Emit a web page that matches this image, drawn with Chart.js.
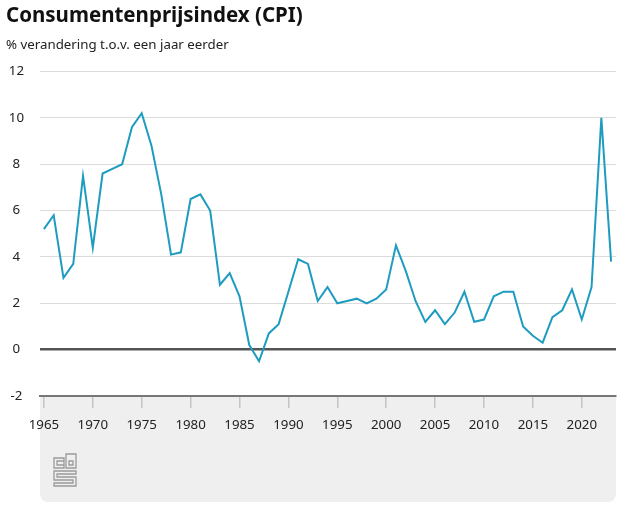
<!DOCTYPE html>
<html><head><meta charset="utf-8">
<script src="https://cdn.jsdelivr.net/npm/chart.js@4"></script>
<style>html,body{margin:0;padding:0;background:#fff}</style>
</head><body>
<canvas id="c" width="626" height="512"></canvas>
<script>
const years = [1965,1966,1967,1968,1969,1970,1971,1972,1973,1974,1975,1976,1977,1978,1979,1980,1981,1982,1983,1984,1985,1986,1987,1988,1989,1990,1991,1992,1993,1994,1995,1996,1997,1998,1999,2000,2001,2002,2003,2004,2005,2006,2007,2008,2009,2010,2011,2012,2013,2014,2015,2016,2017,2018,2019,2020,2021,2022,2023];
const cpi = [5.2,5.8,3.1,3.7,7.5,4.4,7.6,7.8,8.0,9.6,10.2,8.8,6.7,4.1,4.2,6.5,6.7,6.0,2.8,3.3,2.3,0.2,-0.5,0.7,1.1,2.5,3.9,3.7,2.1,2.7,2.0,2.1,2.2,2.0,2.2,2.6,4.5,3.4,2.1,1.2,1.7,1.1,1.6,2.5,1.2,1.3,2.3,2.5,2.5,1.0,0.6,0.3,1.4,1.7,2.6,1.3,2.7,10.0,3.8];
const yTicks = [-2,0,2,4,6,8,10,12];
const xTicks = [1965,1970,1975,1980,1985,1990,1995,2000,2005,2010,2015,2020];
const titleText = 'Consumentenprijsindex (CPI)';
const subtitleText = '% verandering t.o.v. een jaar eerder';

const FONT = "'Noto Sans', 'DejaVu Sans', sans-serif";

const boxPlugin = {
  id: 'box',
  beforeDraw(chart) {
    const {ctx, chartArea: a} = chart;
    ctx.save();
    ctx.fillStyle = '#efefef';
    ctx.beginPath();
    ctx.roundRect(a.left, a.bottom, a.right - a.left, 502 - a.bottom, [0, 0, 8, 8]);
    ctx.fill();
    ctx.restore();
  },
  afterDraw(chart) {
    const {ctx, chartArea: a} = chart;
    // CBS logo outline
    const x0 = a.left + 14, y0 = 454;
    ctx.save();
    ctx.strokeStyle = '#9a9a9a';
    ctx.lineWidth = 1.3;
    ctx.beginPath();
    ctx.rect(x0, y0 + 4, 10, 10);
    ctx.rect(x0 + 3, y0 + 7, 7, 4);
    ctx.rect(x0 + 12, y0, 10, 14);
    ctx.rect(x0 + 15, y0 + 7, 4, 4);
    ctx.moveTo(x0 + 22, y0 + 17); ctx.lineTo(x0, y0 + 17); ctx.lineTo(x0, y0 + 26);
    ctx.lineTo(x0 + 19, y0 + 26); ctx.lineTo(x0 + 19, y0 + 29); ctx.lineTo(x0, y0 + 29);
    ctx.lineTo(x0, y0 + 32); ctx.lineTo(x0 + 22, y0 + 32); ctx.lineTo(x0 + 22, y0 + 23);
    ctx.lineTo(x0 + 3, y0 + 23); ctx.lineTo(x0 + 3, y0 + 20); ctx.lineTo(x0 + 22, y0 + 20);
    ctx.closePath();
    ctx.stroke();
    ctx.restore();
  }
};

new Chart(document.getElementById('c'), {
  type: 'line',
  data: {
    datasets: [{
      data: years.map((y, i) => ({x: y, y: cpi[i]})),
      borderColor: '#1e9cc0',
      borderWidth: 2,
      pointRadius: 0,
      tension: 0
    }]
  },
  options: {
    responsive: false,
    animation: false,
    layout: {padding: {left: 6, right: 10, top: 4, bottom: 10}},
    plugins: {
      legend: {display: false},
      tooltip: {enabled: false},
      title: {
        display: true, text: titleText, align: 'start', color: '#111',
        font: {family: FONT, size: 20.5, weight: 'bold'},
        padding: {top: 0, bottom: 9}
      },
      subtitle: {
        display: true, text: subtitleText, align: 'start', color: '#222',
        font: {family: FONT, size: 13.3},
        padding: {top: 0, bottom: 18}
      }
    },
    scales: {
      x: {
        type: 'linear', min: 1964.6, max: 2023.5,
        afterBuildTicks: s => { s.ticks = xTicks.map(v => ({value: v})); },
        afterFit: s => { s.height = 106; },
        grid: {drawOnChartArea: false, drawTicks: true, tickLength: 12, tickColor: '#c4c4c4', lineWidth: 1.5},
        border: {display: true, color: '#777', width: 2},
        ticks: {callback: v => String(v), font: {family: FONT, size: 13.3}, color: '#222', padding: 9, maxRotation: 0, autoSkip: false}
      },
      y: {
        min: -2, max: 12,
        afterBuildTicks: s => { s.ticks = yTicks.map(v => ({value: v})); },
        afterFit: s => { s.width = 34; },
        grid: {
          drawTicks: false,
          color: c => c.tick && c.tick.value === 0 ? '#555' : '#dcdcdc',
          lineWidth: c => c.tick && c.tick.value === 0 ? 2.5 : 1
        },
        border: {display: false},
        ticks: {crossAlign: 'center', padding: 16, font: {family: FONT, size: 13.3}, color: '#222'}
      }
    }
  },
  plugins: [boxPlugin]
});
</script>
</body></html>
